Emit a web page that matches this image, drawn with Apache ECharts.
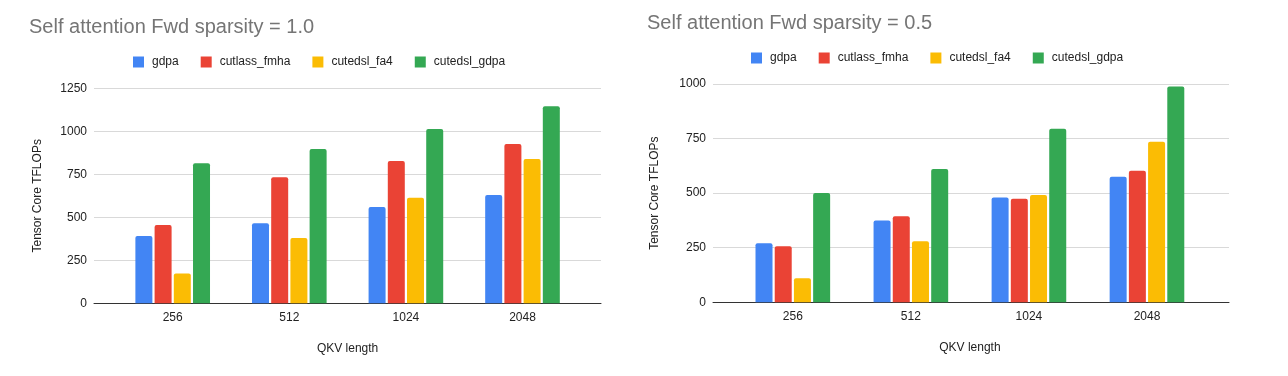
<!DOCTYPE html>
<html>
<head>
<meta charset="utf-8">
<title>Self attention Fwd sparsity</title>
<script src="https://cdn.jsdelivr.net/npm/echarts@6/dist/echarts.min.js"></script>
<style>
  html, body { margin: 0; padding: 0; background: #fff; }
  #chart { width: 1288px; height: 376px; }
</style>
</head>
<body>
<div id="chart"></div>
<script>
// categories / series names
const categories = ['256', '512', '1024', '2048']
const seriesNames = ['gdpa', 'cutlass_fmha', 'cutedsl_fa4', 'cutedsl_gdpa']
const colors = ['#4285F4', '#EA4335', '#FBBC04', '#34A853']

// sparsity = 1.0
const full_gdpa = [392, 466, 560, 630]
const full_cutlass = [455, 733, 828, 926]
const full_fa4 = [173, 380, 614, 839]
const full_cutedsl_gdpa = [814, 897, 1013, 1145]

// sparsity = 0.5
const half_gdpa = [271, 375, 480, 575]
const half_cutlass = [257, 394, 474, 603]
const half_fa4 = [110, 280, 492, 735]
const half_cutedsl_gdpa = [501, 611, 795, 989]

const fullTicks = { min: 0, max: 1250, interval: 250 }
const halfTicks = { min: 0, max: 1000, interval: 250 }

const font = "'Liberation Sans', Arial, sans-serif"

const chart = echarts.init(document.getElementById('chart'))

// background grid: gridlines + y labels + bottom axis line
function bgYAxis (idx, ticks, nameGap) {
  return {
    gridIndex: idx,
    type: 'value',
    min: ticks.min,
    max: ticks.max,
    interval: ticks.interval,
    name: 'Tensor Core TFLOPs',
    nameLocation: 'middle',
    nameGap: nameGap,
    nameTextStyle: { color: '#222', fontSize: 12, fontFamily: font },
    axisLine: { show: false },
    axisTick: { show: false },
    axisLabel: {
      color: '#222',
      fontSize: 12,
      fontFamily: font,
      margin: 7,
      formatter: v => String(v) // no thousands separator
    },
    splitLine: { lineStyle: { color: '#d9d9d9', width: 1 } }
  }
}
function bgXAxis (idx) {
  return {
    gridIndex: idx,
    type: 'value',
    min: 0,
    max: 1,
    axisLine: { show: true, lineStyle: { color: '#333', width: 1 } },
    axisTick: { show: false },
    axisLabel: { show: false },
    splitLine: { show: false }
  }
}
// bar grid: narrower, holds the categories
function barXAxis (idx) {
  return {
    gridIndex: idx,
    type: 'category',
    data: categories,
    name: 'QKV length',
    nameLocation: 'middle',
    nameGap: 39,
    nameTextStyle: { color: '#222', fontSize: 12, fontFamily: font },
    axisLine: { show: false },
    axisTick: { show: false },
    axisLabel: { color: '#222', fontSize: 12, fontFamily: font, margin: 8 }
  }
}
function barYAxis (idx, ticks) {
  return {
    gridIndex: idx,
    type: 'value',
    min: ticks.min,
    max: ticks.max,
    interval: ticks.interval,
    show: false,
    splitLine: { show: false }
  }
}

function barSeries (axisIdx, lists) {
  return lists.map((data, i) => ({
    name: seriesNames[i],
    type: 'bar',
    xAxisIndex: axisIdx,
    yAxisIndex: axisIdx,
    data: data,
    barWidth: 17,
    barGap: '13%',
    itemStyle: { color: colors[i], borderRadius: [2, 2, 0, 0] }
  }))
}

function legend (left, top) {
  return {
    data: seriesNames,
    left: left,
    top: top,
    padding: 0,
    itemWidth: 11,
    itemHeight: 11,
    itemGap: 22,
    icon: 'rect',
    textStyle: { color: '#222', fontSize: 12, fontFamily: font, padding: [0, 0, 0, 3] }
  }
}

chart.setOption({
  animation: false,
  color: colors,
  title: [
    {
      text: 'Self attention Fwd sparsity = 1.0',
      left: 29,
      top: 17,
      padding: 0,
      textStyle: { color: '#757575', fontSize: 20, fontWeight: 'normal', fontFamily: font }
    },
    {
      text: 'Self attention Fwd sparsity = 0.5',
      left: 647,
      top: 13,
      padding: 0,
      textStyle: { color: '#757575', fontSize: 20, fontWeight: 'normal', fontFamily: font }
    }
  ],
  legend: [legend(133, 56), legend(751, 52)],
  grid: [
    { left: 94, width: 507, top: 88.3, bottom: 72.7 },
    { left: 114.4, width: 466.4, top: 88.3, bottom: 72.7 },
    { left: 713, width: 516, top: 84, bottom: 73.7 },
    { left: 733.8, width: 472.2, top: 84, bottom: 73.7 }
  ],
  xAxis: [bgXAxis(0), barXAxis(1), bgXAxis(2), barXAxis(3)],
  yAxis: [
    bgYAxis(0, fullTicks, 50),
    barYAxis(1, fullTicks),
    bgYAxis(2, halfTicks, 52),
    barYAxis(3, halfTicks)
  ],
  series: [
    ...barSeries(1, [full_gdpa, full_cutlass, full_fa4, full_cutedsl_gdpa]),
    ...barSeries(3, [half_gdpa, half_cutlass, half_fa4, half_cutedsl_gdpa])
  ]
})
</script>
</body>
</html>
